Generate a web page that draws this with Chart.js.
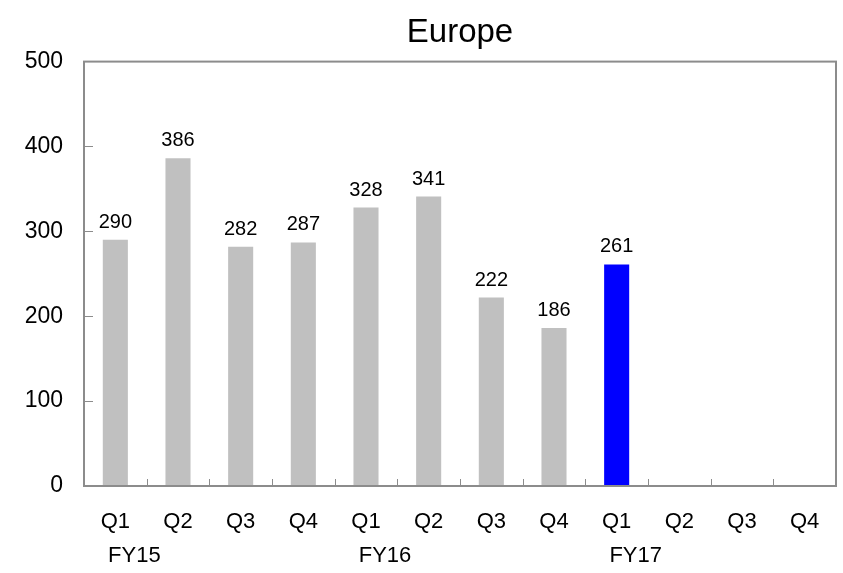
<!DOCTYPE html>
<html>
<head>
<meta charset="utf-8">
<script src="https://cdn.jsdelivr.net/npm/chart.js@4/dist/chart.umd.min.js"></script>
<style>
  html, body { margin: 0; padding: 0; background: #fff; }
  #wrap { width: 843px; height: 573px; }
</style>
</head>
<body>
<div id="wrap"><canvas id="c" width="843" height="573"></canvas></div>
<script>
// Quarterly figures for Europe, FY15 to FY17
const quarters = ['Q1','Q2','Q3','Q4','Q1','Q2','Q3','Q4','Q1','Q2','Q3','Q4'];
const fiscalYears = ['FY15','','','','FY16','','','','FY17','','',''];
const values = [290, 386, 282, 287, 328, 341, 222, 186, 261, null, null, null];
const barColors = ['#c0c0c0','#c0c0c0','#c0c0c0','#c0c0c0','#c0c0c0','#c0c0c0','#c0c0c0','#c0c0c0','#0000ff','#0000ff','#0000ff','#0000ff'];
const yTicks = [0, 100, 200, 300, 400, 500];

const FONT = 'Liberation Sans, Arial, sans-serif';
const AXIS_GRAY = '#8c8c8c';

// Frame, inward tick marks, value labels and fiscal-year captions
const framePlugin = {
  id: 'frame',
  afterDatasetsDraw(chart) {
    const { ctx, chartArea: a, scales } = chart;
    ctx.save();
    ctx.strokeStyle = AXIS_GRAY;
    ctx.lineWidth = 2;
    ctx.strokeRect(a.left, a.top, a.right - a.left, a.bottom - a.top);

    ctx.lineWidth = 1;
    ctx.beginPath();
    yTicks.forEach(v => {
      if (v === 0 || v === 500) return;
      const y = Math.round(scales.y.getPixelForValue(v)) + 0.5;
      ctx.moveTo(a.left, y);
      ctx.lineTo(a.left + 9, y);
    });
    const n = quarters.length;
    for (let i = 1; i < n; i++) {
      const x = Math.round((scales.x.getPixelForValue(i - 1) + scales.x.getPixelForValue(i)) / 2) + 0.5;
      ctx.moveTo(x, a.bottom);
      ctx.lineTo(x, a.bottom - 7);
    }
    ctx.stroke();

    const meta = chart.getDatasetMeta(0);
    ctx.fillStyle = '#000';
    ctx.font = '20px ' + FONT;
    ctx.textAlign = 'center';
    ctx.textBaseline = 'alphabetic';
    meta.data.forEach((bar, i) => {
      if (values[i] == null) return;
      ctx.fillText(String(values[i]), bar.x, bar.y - 12);
    });

    // fiscal year captions under the first quarter of each year
    ctx.font = '22px ' + FONT;
    ctx.textBaseline = 'middle';
    fiscalYears.forEach((fy, i) => {
      if (!fy) return;
      ctx.fillText(fy, scales.x.getPixelForValue(i) + 19, a.bottom + 70);
    });
    ctx.restore();
  }
};

new Chart(document.getElementById('c'), {
  type: 'bar',
  data: {
    labels: quarters,
    datasets: [{
      data: values,
      backgroundColor: barColors,
      borderWidth: 0,
      categoryPercentage: 1,
      barPercentage: 0.4
    }]
  },
  options: {
    responsive: false,
    animation: false,
    layout: { padding: { left: 0, right: 7, top: 0, bottom: 0 } },
    plugins: {
      legend: { display: false },
      tooltip: { enabled: false },
      title: {
        display: true,
        fullSize: false,
        text: 'Europe',
        color: '#000',
        font: { family: FONT, size: 33, weight: 'normal' },
        padding: { top: 13, bottom: 9 }
      }
    },
    scales: {
      x: {
        grid: { display: false, drawTicks: false },
        border: { display: false },
        ticks: {
          color: '#000',
          font: { family: FONT, size: 22 },
          padding: 23,
          maxRotation: 0,
          autoSkip: false
        },
        afterFit(scale) { scale.height = 87; }
      },
      y: {
        min: 0,
        max: 500,
        grid: { display: false, drawTicks: false },
        border: { display: false },
        ticks: {
          stepSize: 100,
          color: '#000',
          font: { family: FONT, size: 23 },
          padding: 21
        },
        afterFit(scale) { scale.width = 84; }
      }
    }
  },
  plugins: [framePlugin]
});
</script>
</body>
</html>
